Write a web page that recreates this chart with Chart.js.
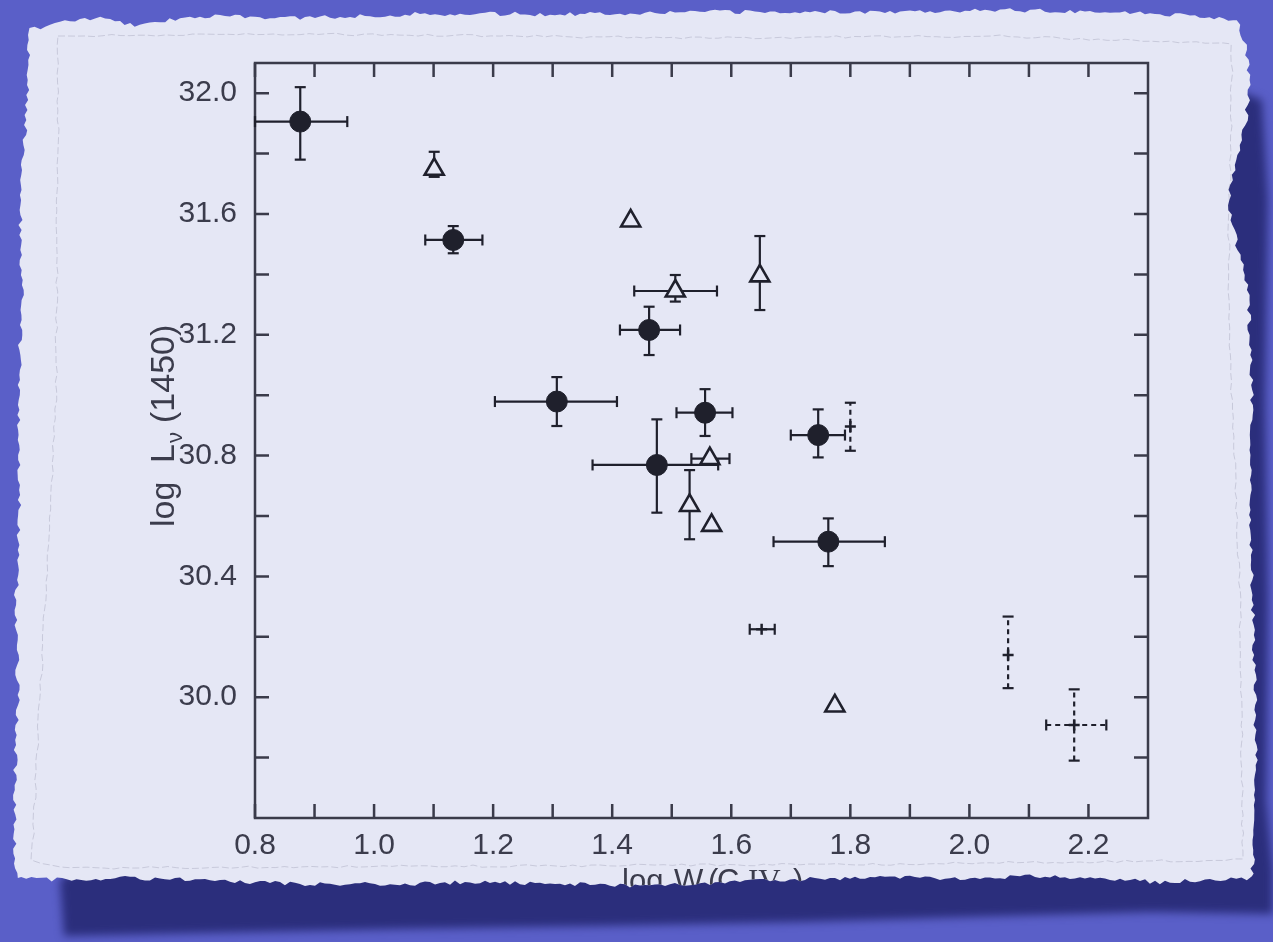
<!DOCTYPE html>
<html>
<head>
<meta charset="utf-8">
<script src="https://cdn.jsdelivr.net/npm/chart.js@4.4.0/dist/chart.umd.min.js"></script>
<style>
  html,body{margin:0;padding:0;background:#5a5fc8;overflow:hidden}
  #wrap{position:relative;width:1273px;height:942px}
  canvas{display:block}
</style>
</head>
<body>
<div id="wrap"><canvas id="c" width="1273" height="942"></canvas></div>
<script>
// ===== Data =====
const xTicks  = [0.8,0.9,1.0,1.1,1.2,1.3,1.4,1.5,1.6,1.7,1.8,1.9,2.0,2.1,2.2];
const xLabels = [0.8,1.0,1.2,1.4,1.6,1.8,2.0,2.2];
const yTicks  = [29.8,30.0,30.2,30.4,30.6,30.8,31.0,31.2,31.4,31.6,31.8,32.0];
const yLabels = [30.0,30.4,30.8,31.2,31.6,32.0];

// filled circles
const dotX   = [0.876, 1.133, 1.462, 1.307, 1.475, 1.556, 1.746, 1.763];
const dotY   = [31.906, 31.514, 31.216, 30.979, 30.769, 30.942, 30.868, 30.515];
const dotXLo = [0.800, 1.086, 1.413, 1.203, 1.367, 1.508, 1.700, 1.671];
const dotXHi = [0.955, 1.182, 1.514, 1.408, 1.578, 1.602, 1.791, 1.858];
const dotYLo = [31.78, 31.47, 31.133, 30.898, 30.611, 30.865, 30.794, 30.434];
const dotYHi = [32.02, 31.56, 31.293, 31.060, 30.920, 31.020, 30.953, 30.592];

// open triangles
const triX   = [1.101, 1.431, 1.506, 1.648, 1.564, 1.530, 1.567, 1.774];
const triY   = [31.748, 31.577, 31.345, 31.395, 30.790, 30.635, 30.569, 29.971];
const triXLo = [null, null, 1.437, null, 1.533, null, null, null];
const triXHi = [null, null, 1.576, null, 1.597, null, null, null];
const triYLo = [31.723, null, 31.310, 31.282, null, 30.523, null, null];
const triYHi = [31.806, null, 31.398, 31.527, null, 30.752, null, null];

// small crosses
const crsX   = [1.800, 1.651, 2.065, 2.176];
const crsY   = [30.896, 30.225, 30.140, 29.908];
const crsXLo = [null, 1.631, null, 2.129];
const crsXHi = [null, 1.673, null, 2.230];
const crsYLo = [30.816, null, 30.030, 29.790];
const crsYHi = [30.975, null, 30.267, 30.026];
const crsDash = [true, false, true, true];

// ===== Style =====
const INK = '#1f202c', AXIS = '#3a3b4a', TXT = '#3b3c4c';
const PAPER = '#e5e7f5', BG = '#5a5fc8', SHADOW = '#2b2e7c';
const FONT = "'Liberation Sans', Arial, sans-serif";
const TICK = 14, CAP = 5.5;

const pts = (xs, ys, xl, xh, yl, yh, dash)=>xs.map((x,i)=>({
  x, y: ys[i], xLo: xl[i], xHi: xh[i], yLo: yl[i], yHi: yh[i], dash: dash ? dash[i] : false
}));

// ===== Torn paper (decoration) =====
function rng(seed){ return ()=>{ seed|=0; seed=seed+0x6D2B79F5|0; let t=Math.imul(seed^seed>>>15,1|seed);
  t=t+Math.imul(t^t>>>7,61|t)^t; return ((t^t>>>14)>>>0)/4294967296; }; }
function jagged(anchors, step, amp, seed){
  const r=rng(seed), out=[];
  for(let i=0;i<anchors.length;i++){
    const [x0,y0]=anchors[i], [x1,y1]=anchors[(i+1)%anchors.length];
    const len=Math.hypot(x1-x0,y1-y0), n=Math.max(1,Math.round(len/step));
    const nx=-(y1-y0)/len, ny=(x1-x0)/len;
    for(let k=0;k<n;k++){
      const t=k/n, j=(r()-0.5)*2*amp;
      out.push([x0+(x1-x0)*t+nx*j, y0+(y1-y0)*t+ny*j]);
    }
  }
  return out;
}
const paperEdge = jagged([
  [30,30],[60,22],[100,18],[140,26],[190,16],[300,18],[420,14],[560,14],[700,12],[850,12],[1000,10],
  [1120,12],[1160,14],[1200,16],[1238,20],[1244,40],[1250,80],[1246,120],[1236,160],[1228,200],
  [1236,240],[1248,290],[1252,400],[1250,520],[1254,640],[1256,760],[1254,850],[1252,878],
  [1210,880],[1160,882],[1120,880],[1050,876],[950,878],[850,878],[760,880],[720,884],[640,886],
  [560,884],[480,882],[400,884],[300,884],[200,880],[120,878],[62,880],[16,878],
  [14,800],[18,700],[16,600],[20,500],[18,400],[22,300],[20,200],[26,120],[28,60]
], 5, 2.2, 7);
const innerEdge = jagged([
  [58,36],[300,34],[700,38],[1000,36],[1232,44],[1228,300],[1240,600],[1243,860],
  [900,864],[500,866],[60,868],[32,860],[40,700],[56,400],[58,120]
], 9, 1.2, 11);
const shadowShape = [
  [1236,90],[1262,100],[1268,200],[1265,400],[1268,600],[1266,800],[1273,870],[1273,914],
  [1150,912],[1000,916],[800,922],[600,926],[400,929],[200,933],[64,936],[60,880]
];
function pathOf(list){ const p=new Path2D(); list.forEach(([x,y],i)=>i?p.lineTo(x,y):p.moveTo(x,y)); p.closePath(); return p; }
const paperPath = pathOf(paperEdge);

const paper = {
  id:'paper',
  beforeDraw(chart){
    const ctx=chart.ctx;
    ctx.save();
    ctx.fillStyle=BG; ctx.fillRect(0,0,chart.width,chart.height);
    ctx.filter='blur(4px)'; ctx.fillStyle=SHADOW; ctx.fill(pathOf(shadowShape));
    ctx.filter='none';
    ctx.fillStyle=PAPER; ctx.fill(paperPath);
    ctx.strokeStyle='rgba(110,112,140,0.25)'; ctx.lineWidth=1; ctx.setLineDash([7,3]);
    ctx.stroke(pathOf(innerEdge));
    ctx.restore();
  }
};

// ===== Frame with inward ticks on all sides =====
const frame = {
  id:'frame',
  beforeDatasetsDraw(chart){
    const {ctx, chartArea:a, scales:{x,y}} = chart;
    ctx.save();
    ctx.strokeStyle=AXIS; ctx.lineWidth=2.5; ctx.lineCap='butt';
    ctx.strokeRect(a.left, a.top, a.right-a.left, a.bottom-a.top);
    ctx.beginPath();
    x.ticks.forEach(t=>{
      const px=x.getPixelForValue(t.value);
      ctx.moveTo(px,a.bottom); ctx.lineTo(px,a.bottom-TICK);
      ctx.moveTo(px,a.top); ctx.lineTo(px,a.top+TICK);
    });
    y.ticks.forEach(t=>{
      const py=y.getPixelForValue(t.value);
      ctx.moveTo(a.left,py); ctx.lineTo(a.left+TICK,py);
      ctx.moveTo(a.right,py); ctx.lineTo(a.right-TICK,py);
    });
    ctx.stroke();
    ctx.restore();
  }
};

// ===== Error bars =====
const errBars = {
  id:'errBars',
  beforeDatasetsDraw(chart){
    const {ctx, scales:{x,y}} = chart;
    ctx.save(); ctx.strokeStyle=INK; ctx.lineWidth=2.2;
    const seg=(x0,y0,x1,y1,dash)=>{ ctx.setLineDash(dash?[5,4]:[]); ctx.beginPath(); ctx.moveTo(x0,y0); ctx.lineTo(x1,y1); ctx.stroke(); };
    chart.data.datasets.forEach(ds=>ds.data.forEach(p=>{
      const px=x.getPixelForValue(p.x), py=y.getPixelForValue(p.y);
      if(p.xLo!=null){
        const a=x.getPixelForValue(p.xLo), b=x.getPixelForValue(p.xHi);
        seg(a,py,b,py,p.dash); seg(a,py-CAP,a,py+CAP); seg(b,py-CAP,b,py+CAP);
      }
      if(p.yLo!=null){
        const a=y.getPixelForValue(p.yLo), b=y.getPixelForValue(p.yHi);
        seg(px,a,px,b,p.dash); seg(px-CAP,a,px+CAP,a); seg(px-CAP,b,px+CAP,b);
      }
    }));
    ctx.restore();
  }
};

// ===== Axis titles (with subscripts) =====
function pieces(ctx, list){
  list.forEach(([txt,x,y,size,fam])=>{ ctx.font=`${size}px ${fam||FONT}`; ctx.fillText(txt,x,y); });
}
const titles = {
  id:'titles',
  afterDraw(chart){
    const ctx=chart.ctx;
    ctx.save();
    ctx.fillStyle=TXT; ctx.textBaseline='alphabetic'; ctx.textAlign='left';
    // y title, rotated
    ctx.save();
    ctx.translate(174, 527); ctx.rotate(-Math.PI/2);
    pieces(ctx, [['log',0,0,34],['L',64,0,34],['\u03BD',84,8,22],['(1450)',104,0,34]]);
    ctx.restore();
    // x title, clipped by the torn edge
    ctx.save();
    ctx.clip(paperPath);
    pieces(ctx, [['log',622,891,31],['W',674,891,31],['\u03BB',702,898,21],['(',708,891,31],['C',717,891,31],
      ['IV',748,891,31,"'Liberation Serif', serif"],[')',793,891,31]]);
    ctx.restore();
    ctx.restore();
  }
};

// ===== Chart =====
const lbl = (list)=>(v)=>list.some(l=>Math.abs(l-v)<1e-6) ? Number(v).toFixed(1) : '';
new Chart(document.getElementById('c'), {
  type:'scatter',
  data:{
    datasets:[
      { label:'dots', data:pts(dotX,dotY,dotXLo,dotXHi,dotYLo,dotYHi),
        pointStyle:'circle', pointRadius:10.5, backgroundColor:INK, borderColor:INK, borderWidth:1 },
      { label:'triangles', data:pts(triX,triY,triXLo,triXHi,triYLo,triYHi),
        pointStyle:'triangle', pointRadius:11, backgroundColor:PAPER, borderColor:INK, borderWidth:2.6 },
      { label:'crosses', data:pts(crsX,crsY,crsXLo,crsXHi,crsYLo,crsYHi,crsDash),
        pointStyle:'cross', pointRadius:5.5, borderColor:INK, borderWidth:2.5 }
    ]
  },
  options:{
    responsive:false, animation:false,
    layout:{ padding:{ left:0, top:63, right:125, bottom:64 } },
    plugins:{ legend:{display:false}, tooltip:{enabled:false} },
    scales:{
      x:{ type:'linear', min:0.8, max:2.3,
        afterBuildTicks:s=>{ s.ticks = xTicks.map(v=>({value:v})); },
        afterFit:s=>{ s.height = 60; },
        grid:{display:false, drawTicks:false}, border:{display:false},
        ticks:{ autoSkip:false, maxRotation:0, padding:10, color:TXT, font:{family:FONT, size:30}, callback:lbl(xLabels) } },
      y:{ type:'linear', min:29.6, max:32.1,
        afterBuildTicks:s=>{ s.ticks = yTicks.map(v=>({value:v})); },
        afterFit:s=>{ s.width = 255; },
        grid:{display:false, drawTicks:false}, border:{display:false},
        ticks:{ autoSkip:false, padding:18, color:TXT, font:{family:FONT, size:30}, callback:lbl(yLabels) } }
    }
  },
  plugins:[paper, frame, errBars, titles]
});
</script>
</body>
</html>
